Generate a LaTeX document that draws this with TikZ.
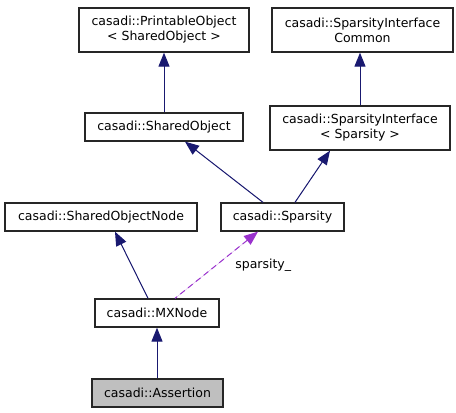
\documentclass[tikz,border=0pt]{standalone}
\usepackage{fontspec}
\setmainfont{DejaVu Sans}
\usepackage{xcolor}
\usepackage{tikz}
\usetikzlibrary{arrows.meta, positioning, calc}
\definecolor{edgeblue}{RGB}{25,25,112}
\definecolor{edgepurple}{RGB}{154,50,205}
\definecolor{boxgray}{RGB}{191,191,191}
\tikzstyle{cls}    = [rectangle, draw=black!85, line width=1.3pt, fill=white,
                       inner sep=0pt, align=center, font=\fontsize{12.5}{15}\selectfont]
\tikzstyle{self}   = [cls, fill=boxgray]
\tikzstyle{inh}    = [{Triangle[length=14pt, width=11pt]}-, line width=1pt, draw=edgeblue, fill=edgeblue]
\tikzstyle{use}    = [{Triangle[length=14pt, width=11pt]}-, line width=1pt, dash pattern=on 6pt off 4pt,
                       draw=edgepurple, fill=edgepurple]

\begin{document}
\begin{tikzpicture}[x=1pt, y=-1pt]
    \useasboundingbox (0,0) rectangle (456,413);

    \node[cls, minimum width=170pt, minimum height=44pt] (po)   at (164,30)  {casadi::PrintableObject\\< SharedObject >};
    \node[cls, minimum width=181pt, minimum height=44pt] (spic) at (362.5,30) {casadi::SparsityInterface\\Common};
    \node[cls, minimum width=158pt, minimum height=28pt] (so)   at (164,127) {casadi::SharedObject};
    \node[cls, minimum width=180pt, minimum height=44pt] (si)   at (360,128) {casadi::SparsityInterface\\< Sparsity >};
    \node[cls, minimum width=192pt, minimum height=28pt] (son)  at (101,217) {casadi::SharedObjectNode};
    \node[cls, minimum width=123pt, minimum height=28pt] (sp)   at (282.5,217) {casadi::Sparsity};
    \node[cls, minimum width=124pt, minimum height=28pt] (mx)   at (157,313) {casadi::MXNode};
    \node[self, minimum width=131pt, minimum height=28pt] (as)  at (157.5,393) {casadi::Assertion};

    \draw[inh] (po) -- (so);
    \draw[inh] (spic.south -| si.north) -- (si.north);
    \draw[inh] ($(so.south)+(21,0)$) -- ($(sp.north)+(-19.5,0)$);
    \draw[inh] ($(si.south)+(-30,0)$) -- ($(sp.north)+(12.5,0)$);
    \draw[inh] ($(son.south)+(14,0)$) -- ($(mx.north)+(-9,0)$);
    \draw[use] ($(sp.south)+(-24.5,0)$) -- node[pos=0.5, right=15pt, font=\fontsize{12.5}{15}\selectfont] (lbl) {sparsity\_} ($(mx.north)+(18,0)$);
    \draw[inh] (mx.south) -- (mx.south |- as.north);
\end{tikzpicture}
\end{document}
